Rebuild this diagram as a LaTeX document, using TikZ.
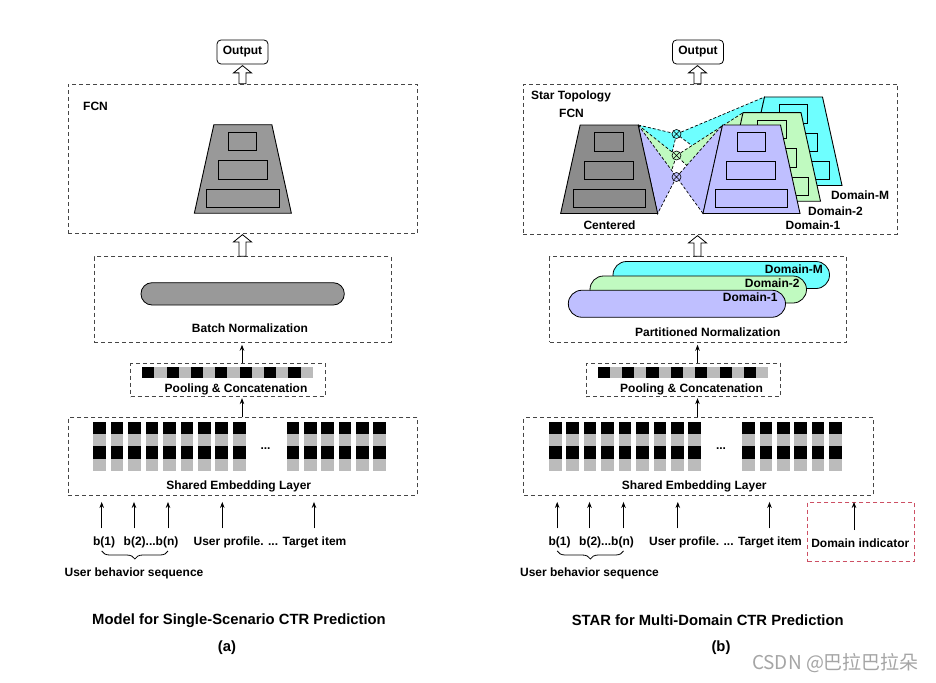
\documentclass[tikz,border=0pt]{standalone}
\usepackage{fontspec}
\setmainfont{Liberation Sans}
\newfontfamily\cjkfont{Noto Sans CJK SC}
\usetikzlibrary{arrows.meta,calc,decorations.pathreplacing}
\definecolor{dpurple}{RGB}{191,191,255}
\definecolor{dgreen}{RGB}{192,250,192}
\definecolor{dcyan}{RGB}{110,255,255}
\definecolor{tgray}{RGB}{153,153,153}
\definecolor{cgray}{RGB}{140,140,140}
\definecolor{egray}{RGB}{187,187,187}
\definecolor{dboxc}{RGB}{70,70,70}
\definecolor{redind}{RGB}{205,80,100}
\definecolor{wmgray}{RGB}{165,165,165}

\newcommand\embcol[1]{%
  \fill[black] (#1,421.7) rectangle ++(12.7,12.6);
  \fill[egray] (#1,434.3) rectangle ++(12.7,11.4);
  \fill[black] (#1,445.7) rectangle ++(12.7,13.3);
  \fill[egray] (#1,459) rectangle ++(12.7,12);}

\newcommand\lowerpart[1]{%
  \node[dbox, minimum width=296.7pt, minimum height=85.6pt] (bn#1) at (242.65,299.5) {};
  \node[dbox, minimum width=194.3pt, minimum height=33.2pt] (pool#1) at (227.85,380.1) {};
  \node[dbox, minimum width=349.4pt, minimum height=77.3pt] (emb#1) at (243,456.35) {};
  \foreach \i in {0,2,...,12} \fill[black] ({142.3+12.17*\i},366.7) rectangle ++(12.17,11.6);
  \foreach \i in {1,3,...,13} \fill[egray] ({142.3+12.17*\i},366.7) rectangle ++(12.17,11.6);
  \foreach \i in {0,...,8}{\pgfmathsetmacro\xx{93.3+17.45*\i}\embcol{\xx}}
  \foreach \i in {0,...,5}{\pgfmathsetmacro\xx{286.7+17.35*\i}\embcol{\xx}}
  \node[lbl] (pooltxt#1) at (236,389) {Pooling \& Concatenation};
  \node[lbl] (dots#1) at (265.5,449) {...};
  \node[lbl] (embtxt#1) at (238.8,486.7) {Shared Embedding Layer};
  \node[lbl] (bone#1) at (104,542.5) {b(1)};
  \node[lbl] (bseq#1) at (151,542.5) {b(2)...b(n)};
  \node[lbl] (prof#1) at (270,542.5) {User profile. ... Target item};
  \node[lbl] (ubs#1) at (134,573.3) {User behavior sequence};
  \coordinate (ina#1) at (101.7,528.3);
  \coordinate (inb#1) at (134,528.3);
  \coordinate (inc#1) at (168,528.3);
  \coordinate (ind#1) at (222.3,528.3);
  \coordinate (ine#1) at (314,528.3);
  \foreach \k in {a,b,c,d,e} \draw[arr, shorten >=6.5pt] (in\k#1) -- (in\k#1 |- emb#1.south);
  \draw[decorate, decoration={brace, mirror, amplitude=8pt}, line width=0.8pt] (101.7,551) -- (168,551);
  \coordinate (ax#1) at (242,0);
  \draw[arr, shorten >=1pt] (emb#1.north -| ax#1) -- (pool#1.south -| ax#1);
  \draw[arr, shorten >=2pt] (pool#1.north -| ax#1) -- (bn#1.south -| ax#1);
}

\newcommand\towercoords[3]{%
  \coordinate (#1c) at (#2,#3);
  \coordinate (#1tl) at (#2-29,#3);
  \coordinate (#1tr) at (#2+29,#3);
  \coordinate (#1br) at (#2+48.5,#3+88.5);
  \coordinate (#1bl) at (#2-48.5,#3+88.5);}
\newcommand\towerdraw[2]{%
  \filldraw[tw, fill=#2] (#1tl) -- (#1tr) -- (#1br) -- (#1bl) -- cycle;
  \filldraw[tw, fill=#2] ($(#1c)+(-14.4,7.5)$) rectangle ($(#1c)+(14,26)$);
  \filldraw[tw, fill=#2] ($(#1c)+(-24.6,36)$) rectangle ($(#1c)+(24.4,54.6)$);
  \filldraw[tw, fill=#2] ($(#1c)+(-36.2,64.3)$) rectangle ($(#1c)+(36.1,82.6)$);}

\newcommand\hollowup[2]{%
  \draw[hollow] let \p1=(#1), \p2=(#2) in
    (\x1-3.5pt,\y1) -- (\x1-3.5pt,\y2-8.5pt) -- (\x1-9pt,\y2-8.5pt) -- (\x1,\y2-1.2pt)
    -- (\x1+9pt,\y2-8.5pt) -- (\x1+3.5pt,\y2-8.5pt) -- (\x1+3.5pt,\y1) -- cycle;}

\begin{document}
\begin{tikzpicture}[x=1pt,y=-1pt,
  lbl/.style={font=\fontsize{12}{14}\selectfont\bfseries, inner sep=0pt},
  captxt/.style={font=\fontsize{14.8}{17}\selectfont\bfseries, inner sep=0pt},
  dbox/.style={draw=dboxc, line width=0.9pt, dash pattern=on 4pt off 3pt, inner sep=0pt},
  outbox/.style={draw, rounded corners=4pt, line width=0.8pt, minimum width=51pt, minimum height=24pt, inner sep=0pt, font=\fontsize{12}{14}\selectfont\bfseries},
  arr/.style={line width=0.8pt, -{Stealth[length=6pt,width=4.5pt]}},
  hollow/.style={draw, fill=white, line width=0.8pt},
  tri/.style={draw, line width=0.7pt, dash pattern=on 3pt off 2pt},
  tw/.style={draw, line width=0.9pt},
  pill/.style={draw, line width=0.8pt, rounded corners=13.5pt, minimum height=27pt, inner sep=0pt},
  xcirc/.style={draw, circle, line width=0.6pt, minimum size=9pt, inner sep=0pt}]
\useasboundingbox (0,0) rectangle (936,682);
\fill[white] (0,0) rectangle (936,682);

% ---------- panel (a) ----------
\begin{scope}
\lowerpart{L}
\end{scope}
\node[outbox] (outL) at (242.5,52) {Output};
\node[dbox, minimum width=349.7pt, minimum height=148.7pt] (fcnL) at (242.85,158.65) {};
\node[lbl, anchor=west] (fcnLtxt) at (83,106) {FCN};
\towercoords{tL}{242.85}{124.7}
\towerdraw{tL}{tgray}
\node[pill, fill=tgray, minimum width=203.3pt, minimum height=22.3pt, rounded corners=11pt] (bnpill) at (242.65,293.85) {};
\node[lbl] (bntxt) at (250,328.3) {Batch Normalization};
\coordinate (axhL) at (242.5,0);
\hollowup{fcnL.north -| axhL}{outL.south}
\hollowup{bnL.north -| axhL}{fcnL.south}
\node[captxt] (capa) at (239,620.5) {Model for Single-Scenario CTR Prediction};
\node[captxt] (capal) at (227,648) {(a)};

% ---------- panel (b) ----------
\begin{scope}[xshift=455.5pt]
\lowerpart{R}
\end{scope}
\node[outbox] (outR) at (698,52) {Output};
\node[dbox, minimum width=374.4pt, minimum height=149.7pt] (fcnR) at (710.5,159.15) {};
\node[lbl, anchor=west] (startxt) at (531,96.7) {Star Topology};
\node[lbl, anchor=west] (fcnRtxt) at (559,113.3) {FCN};

\towercoords{tC}{609.15}{125}
\towercoords{tM}{793.5}{97}
\towercoords{tT}{772}{112.7}
\towercoords{tO}{751.5}{125}
\coordinate (pC) at (676.5,134);
\coordinate (pG) at (676.5,155.5);
\coordinate (pP) at (676.5,177);
% left fan
\filldraw[tri, fill=dcyan] (tCtr) -- (pC) -- (tCbr) -- cycle;
\filldraw[tri, fill=dgreen] (tCtr) -- (pG) -- (tCbr) -- cycle;
\filldraw[tri, fill=dpurple] (tCtr) -- (pP) -- (tCbr) -- cycle;
% right fans and domain towers
\filldraw[tri, fill=dcyan] (pC) -- (tMtl) -- (tMbl) -- cycle;
\towerdraw{tM}{dcyan}
\filldraw[tri, fill=dgreen] (pG) -- (tTtl) -- (tTbl) -- cycle;
\towerdraw{tT}{dgreen}
\filldraw[tri, fill=dpurple] (pP) -- (tOtl) -- (tObl) -- cycle;
\towerdraw{tO}{dpurple}
\towerdraw{tC}{cgray}
\node[xcirc, fill=dcyan] (xC) at (pC) {};
\node[xcirc, fill=dgreen] (xG) at (pG) {};
\node[xcirc, fill=dpurple] (xP) at (pP) {};
\foreach \n in {xC,xG,xP} \draw[line width=0.6pt] (\n.45) -- (\n.225) (\n.135) -- (\n.315);
\node[lbl] (centtxt) at (609.5,225) {Centered};
\node[lbl] (dMtxt) at (860,195.7) {Domain-M};
\node[lbl] (d2txt) at (835.5,211) {Domain-2};
\node[lbl] (d1txt) at (813,225) {Domain-1};

\node[pill, fill=dcyan, minimum width=216.5pt] (pM) at (721.25,275) {};
\node[pill, fill=dgreen, minimum width=216.5pt] (pT) at (698.25,289.5) {};
\node[pill, fill=dpurple, minimum width=217.2pt] (pO) at (676.9,303.75) {};
\node[lbl, anchor=east] (pMtxt) at ($(pM.north east)+(-6.8,8)$) {Domain-M};
\node[lbl, anchor=east] (pTtxt) at ($(pT.north east)+(-7.2,7.8)$) {Domain-2};
\node[lbl, anchor=east] (pOtxt) at ($(pO.north east)+(-8.2,7.8)$) {Domain-1};
\node[lbl] (pntxt) at (707.8,332.3) {Partitioned Normalization};
\coordinate (axhR) at (697.5,0);
\hollowup{fcnR.north -| axhR}{outR.south}
\hollowup{bnR.north -| axhR}{fcnR.south}

\node[dbox, draw=redind, minimum width=106.6pt, minimum height=59.4pt] (dibox) at (861,532) {};
\node[lbl] (ditxt) at (860.3,543.3) {Domain indicator};
\coordinate (inf) at (854,530);
\draw[arr, shorten >=6.5pt] (inf) -- (inf |- embR.south);

\node[captxt] (capb) at (707.7,620.5) {STAR for Multi-Domain CTR Prediction};
\node[captxt] (capbl) at (721,648) {(b)};
\node[font=\cjkfont\fontsize{19}{21}\selectfont, text=wmgray, inner sep=0pt] (wm) at (835.5,663) {CSDN @巴拉巴拉朵};
\end{tikzpicture}
\end{document}
